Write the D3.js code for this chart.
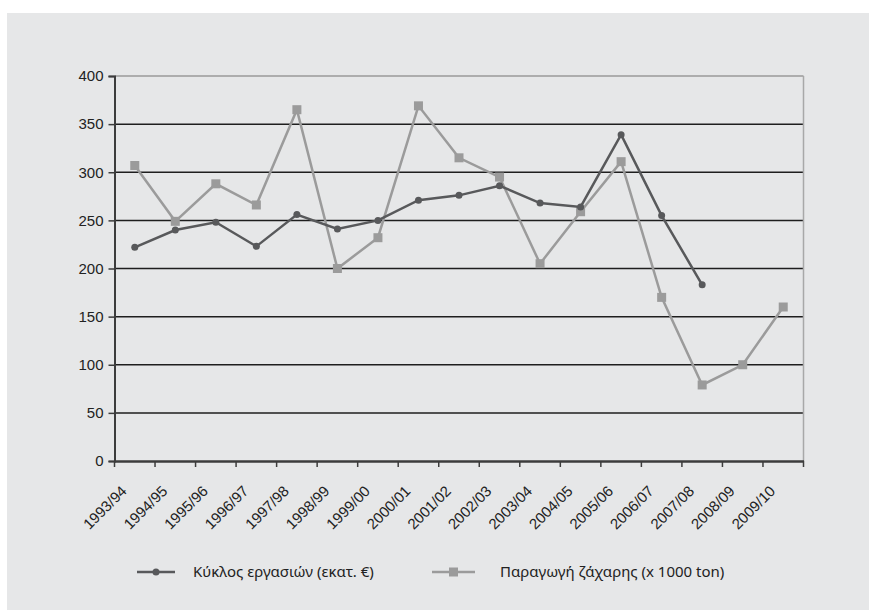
<html lang="el">

<head>
  <meta charset="utf-8">
  <title>Κύκλος εργασιών και παραγωγή ζάχαρης</title>
  <script type="text/javascript" src="https://d3js.org/d3.v7.min.js"></script>
  <style>
    body { margin: 0; background: #fff; }
  </style>
</head>

<body>
  <svg width="869" height="610"></svg>
  <script>
    const years = ["1993/94", "1994/95", "1995/96", "1996/97", "1997/98", "1998/99", "1999/00",
      "2000/01", "2001/02", "2002/03", "2003/04", "2004/05", "2005/06", "2006/07", "2007/08",
      "2008/09", "2009/10"];
    // turnover, million euro (no data after 2007/08)
    const turnover = [222, 240, 248, 223, 256, 241, 250, 271, 276, 286, 268, 264, 339, 255, 183, null, null];
    // sugar production, 1000 t
    const sugar = [307, 249, 288, 266, 365, 200, 232, 369, 315, 295, 205, 259, 311, 170, 79, 100, 160];
    const yTicks = [0, 50, 100, 150, 200, 250, 300, 350, 400];
    const seriesNames = ["Κύκλος εργασιών (εκατ. €)", "Παραγωγή ζάχαρης (x 1000 ton)"];

    const dark = "#58595b", light = "#9b9b9b";
    const svg = d3.select("svg");

    svg.append("rect")
      .attr("x", 7).attr("y", 13)
      .attr("width", 862).attr("height", 597)
      .attr("fill", "#e6e7e8");

    const x = d3.scaleBand().domain(years).range([114.5, 803.5]);
    const y = d3.scaleLinear().domain([0, 400]).range([461, 76]);

    // grid lines
    svg.append("g")
      .selectAll("line")
      .data(yTicks.filter(d => d > 0))
      .enter()
      .append("line")
      .attr("x1", 114.5).attr("x2", 803.5)
      .attr("y1", d => y(d)).attr("y2", d => y(d))
      .attr("stroke", d => d === 400 ? "#9a9a9a" : "#1e1e1e")
      .attr("stroke-width", 1.5);

    // right border
    svg.append("line")
      .attr("x1", 803.5).attr("x2", 803.5)
      .attr("y1", y(400)).attr("y2", y(0))
      .attr("stroke", "#a8a8a8")
      .attr("stroke-width", 1.5);

    // y axis
    const yAxis = svg.append("g")
      .attr("transform", "translate(114.5,0)")
      .call(d3.axisLeft(y).tickValues(yTicks).tickSize(6).tickPadding(5));
    yAxis.select(".domain").attr("stroke", "#3c3c3c").attr("stroke-width", 2);
    yAxis.selectAll(".tick line").attr("stroke", "#3c3c3c").attr("stroke-width", 1.5);
    yAxis.selectAll("text")
      .attr("font-family", "'Liberation Sans', Arial, sans-serif")
      .attr("font-size", 15)
      .attr("fill", "#222");

    // x axis
    const xAxis = svg.append("g")
      .attr("transform", "translate(0," + y(0) + ")")
      .call(d3.axisBottom(x).tickSize(0).tickFormat(""));
    xAxis.select(".domain").attr("stroke", "#3c3c3c").attr("stroke-width", 2.5);
    xAxis.selectAll(".tick").remove();
    const bounds = years.map(d => x(d)).concat([x.range()[1]]);
    xAxis.selectAll("line.b")
      .data(bounds)
      .enter()
      .append("line")
      .attr("class", "b")
      .attr("x1", d => d).attr("x2", d => d)
      .attr("y1", 0).attr("y2", 6)
      .attr("stroke", "#3c3c3c")
      .attr("stroke-width", 1.5);

    svg.append("g")
      .selectAll("text")
      .data(years)
      .enter()
      .append("text")
      .attr("transform", d => "translate(" + (x(d) + x.bandwidth() / 2 - 7) + ",492) rotate(-45)")
      .attr("text-anchor", "end")
      .attr("font-family", "'Liberation Sans', Arial, sans-serif")
      .attr("font-size", 15)
      .attr("fill", "#222")
      .text(d => d);

    const cx = d => x(d) + x.bandwidth() / 2;

    // sugar production line
    const sugarData = years.map((d, i) => ({ year: d, v: sugar[i] }));
    svg.append("path")
      .datum(sugarData)
      .attr("fill", "none")
      .attr("stroke", light)
      .attr("stroke-width", 2.5)
      .attr("d", d3.line().x(d => cx(d.year)).y(d => y(d.v)));
    svg.append("g")
      .selectAll("rect")
      .data(sugarData)
      .enter()
      .append("rect")
      .attr("x", d => cx(d.year) - 4.5)
      .attr("y", d => y(d.v) - 4.5)
      .attr("width", 9).attr("height", 9)
      .attr("fill", light);

    // turnover line
    const turnData = years.map((d, i) => ({ year: d, v: turnover[i] })).filter(d => d.v !== null);
    svg.append("path")
      .datum(turnData)
      .attr("fill", "none")
      .attr("stroke", dark)
      .attr("stroke-width", 2.5)
      .attr("d", d3.line().x(d => cx(d.year)).y(d => y(d.v)));
    svg.append("g")
      .selectAll("circle")
      .data(turnData)
      .enter()
      .append("circle")
      .attr("cx", d => cx(d.year))
      .attr("cy", d => y(d.v))
      .attr("r", 3.5)
      .attr("fill", dark);

    // legend
    const legend = svg.append("g").attr("transform", "translate(0,572)");
    legend.append("line")
      .attr("x1", 137).attr("x2", 175)
      .attr("stroke", dark).attr("stroke-width", 2.5);
    legend.append("circle")
      .attr("cx", 156).attr("r", 3.5).attr("fill", dark);
    legend.append("text")
      .attr("x", 193).attr("y", 5)
      .attr("font-family", "'Noto Sans', sans-serif")
      .attr("font-size", 15)
      .attr("fill", "#222")
      .text(seriesNames[0]);
    legend.append("line")
      .attr("x1", 432).attr("x2", 475)
      .attr("stroke", light).attr("stroke-width", 2.5);
    legend.append("rect")
      .attr("x", 449).attr("y", -4.5)
      .attr("width", 9).attr("height", 9)
      .attr("fill", light);
    legend.append("text")
      .attr("x", 500).attr("y", 5)
      .attr("font-family", "'Noto Sans', sans-serif")
      .attr("font-size", 15)
      .attr("fill", "#222")
      .text(seriesNames[1]);
  </script>
</body>

</html>
